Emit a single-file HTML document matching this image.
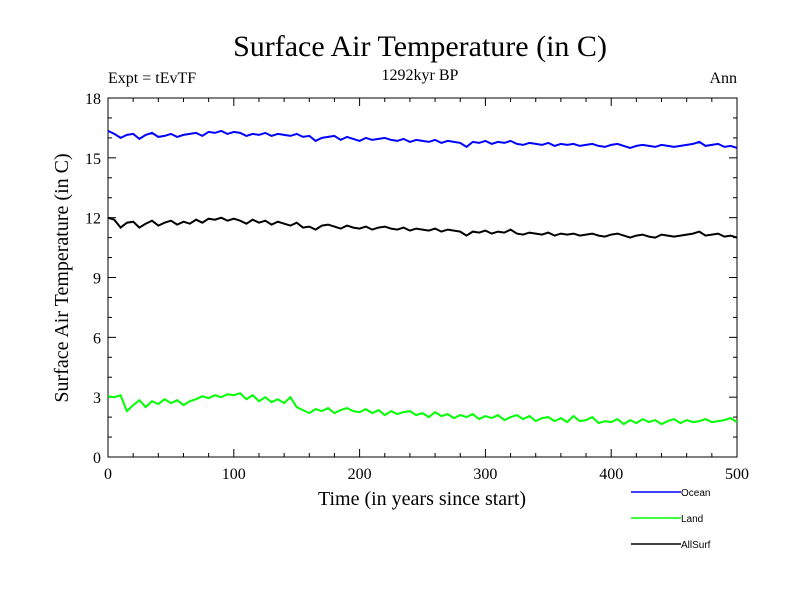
<!DOCTYPE html>
<html><head><meta charset="utf-8"><style>
body{margin:0;background:#fff}
svg text{font-family:"Liberation Serif",serif}
</style></head><body>
<svg id="c" width="800" height="600" xmlns="http://www.w3.org/2000/svg">
<text x="420" y="56" font-size="30" text-anchor="middle">Surface Air Temperature (in C)</text>
<text x="420" y="80" font-size="16" text-anchor="middle">1292kyr BP</text>
<text x="108" y="83" font-size="16">Expt = tEvTF</text>
<text x="737" y="83" font-size="16" text-anchor="end">Ann</text>
<text x="422" y="505" font-size="20" text-anchor="middle">Time (in years since start)</text>
<text transform="translate(68,278) rotate(-90)" font-size="20" text-anchor="middle">Surface Air Temperature (in C)</text>
<g id="axes"></g><g id="series"></g><g id="legend"></g>
</svg>
<script>
const xTicks=[0,100,200,300,400,500];
const yTicks=[0,3,6,9,12,15,18];
const seriesNames=["Ocean","Land","AllSurf"];
const seriesColors=["#0000ff","#00ff00","#000000"];
const ocean=[16.35,16.2,16.0,16.15,16.2,15.95,16.15,16.25,16.05,16.1,
16.2,16.05,16.15,16.2,16.25,16.1,16.3,16.25,16.35,16.2,
16.3,16.25,16.1,16.2,16.15,16.25,16.1,16.2,16.15,16.1,
16.2,16.05,16.1,15.85,16.0,16.05,16.1,15.9,16.05,15.95,
15.85,16.0,15.9,15.95,16.0,15.9,15.85,15.95,15.8,15.9,
15.85,15.8,15.9,15.75,15.85,15.8,15.75,15.55,15.8,15.75,
15.85,15.7,15.8,15.75,15.85,15.7,15.65,15.75,15.7,15.65,
15.75,15.6,15.7,15.65,15.7,15.6,15.65,15.7,15.6,15.55,
15.65,15.7,15.6,15.5,15.6,15.65,15.6,15.55,15.65,15.6,
15.55,15.6,15.65,15.7,15.8,15.6,15.65,15.7,15.55,15.6,15.5];
const land=[3.05,3.0,3.1,2.3,2.6,2.85,2.5,2.8,2.65,2.9,
2.7,2.85,2.6,2.8,2.9,3.05,2.95,3.1,3.0,3.15,
3.1,3.2,2.9,3.1,2.8,3.0,2.75,2.9,2.7,3.0,
2.5,2.35,2.2,2.4,2.3,2.45,2.2,2.35,2.45,2.3,
2.25,2.4,2.2,2.35,2.1,2.3,2.15,2.25,2.3,2.1,
2.2,2.0,2.25,2.05,2.15,1.95,2.1,2.0,2.15,1.9,
2.05,1.95,2.1,1.85,2.0,2.1,1.9,2.05,1.8,1.95,
2.0,1.8,1.95,1.75,2.05,1.8,1.85,2.0,1.7,1.8,
1.75,1.9,1.65,1.85,1.7,1.9,1.75,1.85,1.65,1.8,
1.9,1.7,1.85,1.75,1.8,1.9,1.75,1.8,1.85,1.95,1.75];
const allsurf=[12.0,11.9,11.5,11.75,11.8,11.5,11.7,11.85,11.6,11.75,
11.85,11.65,11.8,11.7,11.9,11.75,11.95,11.9,12.0,11.85,
11.95,11.85,11.7,11.9,11.75,11.85,11.65,11.8,11.7,11.6,
11.75,11.5,11.55,11.4,11.6,11.65,11.55,11.45,11.6,11.5,
11.45,11.55,11.4,11.5,11.55,11.45,11.4,11.5,11.35,11.45,
11.4,11.35,11.45,11.3,11.4,11.35,11.3,11.1,11.3,11.25,
11.35,11.2,11.3,11.25,11.4,11.2,11.15,11.25,11.2,11.15,
11.25,11.1,11.2,11.15,11.2,11.1,11.15,11.2,11.1,11.05,
11.15,11.2,11.1,11.0,11.1,11.15,11.05,11.0,11.15,11.1,
11.05,11.1,11.15,11.2,11.3,11.1,11.15,11.2,11.05,11.1,11.0];
const NS="http://www.w3.org/2000/svg";
const X0=108,X1=737,Y0=457,Y1=98;
const xs=v=>X0+(v-0)/500*(X1-X0);
const ys=v=>Y0-(v-0)/18*(Y0-Y1);
function mk(t,a,p){const e=document.createElementNS(NS,t);for(const k in a)e.setAttribute(k,a[k]);p.appendChild(e);return e;}
const axes=document.getElementById('axes');
const frame=mk('rect',{x:X0,y:Y1,width:X1-X0,height:Y0-Y1,fill:'none',stroke:'#000','stroke-width':1},axes);


for(let v=0;v<=500;v+=20){const maj=v%100===0,L=maj?8:4;
mk('line',{x1:xs(v),x2:xs(v),y1:Y0,y2:Y0-L,stroke:'#000'},axes);
mk('line',{x1:xs(v),x2:xs(v),y1:Y1,y2:Y1+L,stroke:'#000'},axes);}
for(let v=0;v<=18;v+=1){const maj=v%3===0,L=maj?8:4;
mk('line',{x1:X0,x2:X0+L,y1:ys(v),y2:ys(v),stroke:'#000'},axes);
mk('line',{x1:X1,x2:X1-L,y1:ys(v),y2:ys(v),stroke:'#000'},axes);}
xTicks.forEach(v=>{const t=mk('text',{x:xs(v),y:Y0+22,'font-size':16,'text-anchor':'middle'},axes);t.textContent=v;

});
yTicks.forEach(v=>{const t=mk('text',{x:X0-7,y:ys(v)+6,'font-size':16,'text-anchor':'end'},axes);t.textContent=v;

});
const sg=document.getElementById('series');
[ocean,land,allsurf].forEach((d,i)=>{
const pts=d.map((v,j)=>xs(j*500/(d.length-1)).toFixed(1)+','+ys(v).toFixed(1)).join(' ');
const p=mk('polyline',{points:pts,fill:'none',stroke:seriesColors[i],'stroke-width':2},sg);

});
const lg=document.getElementById('legend');
seriesNames.forEach((n,i)=>{const y=492+i*26;
const g=mk('g',{},lg);


mk('line',{x1:631,x2:681,y1:y,y2:y,stroke:seriesColors[i],'stroke-width':1.5},g);
const t=mk('text',{x:681,y:y+4,'font-size':10,style:'font-family:"Liberation Sans",sans-serif'},g);t.textContent=n;});
</script>
</body></html>
